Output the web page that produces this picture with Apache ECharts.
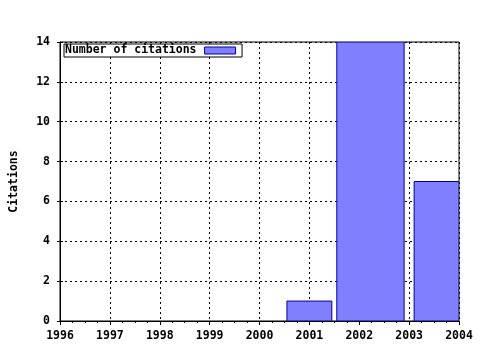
<!DOCTYPE html>
<html>
<head>
<meta charset="utf-8">
<script src="https://cdn.jsdelivr.net/npm/echarts@6/dist/echarts.min.js"></script>
<style>html,body{margin:0;padding:0;background:#fff}#c{width:480px;height:350px}</style>
</head>
<body>
<div id="c"></div>
<script>
var years = [2001, 2002, 2004];
var citations = [1, 14, 7];
var yTicks = [0, 2, 4, 6, 8, 10, 12, 14];
var xTicks = [1996, 1997, 1998, 1999, 2000, 2001, 2002, 2003, 2004];

var relWidth = 0.9;
var boxes = years.map(function (x, i) {
  var dl = i > 0 ? x - years[i - 1] : years[1] - years[0];
  var dr = i < years.length - 1 ? years[i + 1] - x : dl;
  return [x, citations[i], x - relWidth * dl / 2, x + relWidth * dr / 2];
});

var FONT = 'DejaVu Sans Mono';
var chart = echarts.init(document.getElementById('c'), null, {renderer: 'canvas'});
chart.setOption({
  animation: false,
  textStyle: {fontFamily: FONT},
  grid: {left: 57, right: 21, top: 42, bottom: 29, show: true, borderColor: '#000', borderWidth: 1, backgroundColor: 'transparent'},
  legend: {
    left: 64, top: 44, orient: 'horizontal', align: 'right',
    padding: [0, 6, 0, 1], itemGap: 0,
    borderColor: '#000', borderWidth: 1,
    itemWidth: 31, itemHeight: 7,
    icon: 'rect',
    backgroundColor: '#fff',
    textStyle: {fontFamily: FONT, fontWeight: 'bold', fontSize: 11.5, color: '#000', padding: [1, 3, 0, 0], lineHeight: 12},
    data: [{name: 'Number of citations', itemStyle: {color: '#8080ff', borderColor: '#0000a0', borderWidth: 1}}]
  },
  xAxis: [{
    type: 'value', min: xTicks[0], max: xTicks[xTicks.length - 1], interval: 1,
    position: 'bottom',
    axisLine: {show: true, lineStyle: {color: '#000', width: 1}},
    axisTick: {show: true, inside: false, length: 3, lineStyle: {color: '#000'}},
    minorTick: {show: true, splitNumber: 4, length: 2, lineStyle: {color: '#000'}},
    axisLabel: {color: '#000', fontFamily: FONT, fontWeight: 'bold', fontSize: 11.5, margin: 9, formatter: function (v) { return String(v); }},
    splitLine: {show: true, lineStyle: {color: '#000', type: [2, 3], width: 1}}
  }, {
    type: 'value', min: xTicks[0], max: xTicks[xTicks.length - 1], interval: 1,
    position: 'top',
    axisLine: {show: true, lineStyle: {color: '#000', width: 1}},
    axisTick: {show: true, inside: true, length: 4, lineStyle: {color: '#000'}},
    minorTick: {show: true, splitNumber: 4, length: 2, lineStyle: {color: '#000'}},
    axisLabel: {show: false},
    splitLine: {show: false}
  }],
  yAxis: [{
    type: 'value', min: yTicks[0], max: yTicks[yTicks.length - 1], interval: 2,
    name: 'Citations', nameLocation: 'middle', nameGap: 40, nameRotate: 90,
    nameTextStyle: {color: '#000', fontFamily: FONT, fontWeight: 'bold', fontSize: 11.5},
    axisLine: {show: true, lineStyle: {color: '#000', width: 1}},
    axisTick: {show: true, inside: false, length: 3, lineStyle: {color: '#000'}},
    axisLabel: {color: '#000', fontFamily: FONT, fontWeight: 'bold', fontSize: 11.5, margin: 10},
    splitLine: {show: true, lineStyle: {color: '#000', type: [2, 3], width: 1}}
  }, {
    type: 'value', min: yTicks[0], max: yTicks[yTicks.length - 1], interval: 2,
    position: 'left',
    axisLine: {show: false},
    axisTick: {show: true, inside: true, length: 3, lineStyle: {color: '#000'}},
    axisLabel: {show: false},
    splitLine: {show: false}
  }],
  series: [{
    name: 'Number of citations',
    type: 'custom',
    clip: true,
    xAxisIndex: 0, yAxisIndex: 0,
    data: boxes,
    encode: {x: [0, 2, 3], y: 1},
    itemStyle: {color: '#8080ff', borderColor: '#0000a0', borderWidth: 1},
    renderItem: function (params, api) {
      var p0 = api.coord([api.value(2), 0]);
      var p1 = api.coord([api.value(3), api.value(1)]);
      var rect = echarts.graphic.clipRectByRect({
        x: p0[0], y: p1[1], width: p1[0] - p0[0], height: p0[1] - p1[1]
      }, {x: params.coordSys.x, y: params.coordSys.y, width: params.coordSys.width, height: params.coordSys.height});
      if (!rect) return;
      return {type: 'rect', shape: rect, style: {fill: '#8080ff', stroke: '#0000a0', lineWidth: 1}};
    }
  }]
});
</script>
</body>
</html>
